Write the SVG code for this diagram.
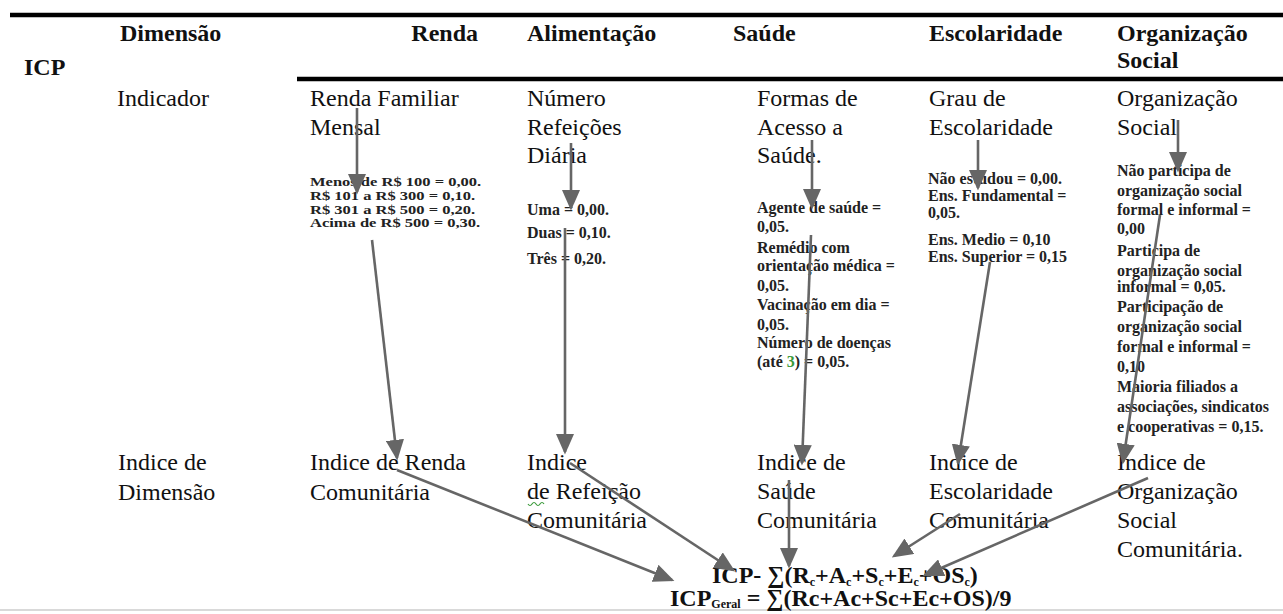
<svg xmlns="http://www.w3.org/2000/svg" width="1283" height="614" viewBox="0 0 1283 614" font-family="'Liberation Serif', 'DejaVu Serif', serif">
<style>
text{font-family:"Liberation Serif","DejaVu Serif",serif;fill:#111}
.h{font-size:24px;font-weight:bold}
.t{font-size:24px}
.s{font-size:16px;font-weight:bold;fill:#222}
.sq{font-size:16.5px;font-weight:bold;fill:#222}
.f{font-size:24px;font-weight:bold}
.sub{font-size:12px}
.rule{stroke:#000;stroke-width:4.5}
.c{stroke:#666;stroke-width:2.6;fill:none;marker-end:url(#ah)}
</style>
<defs>
<marker id="ah" markerWidth="8" markerHeight="7" refX="7" refY="3.5" orient="auto" markerUnits="strokeWidth">
<path d="M0,0 L8,3.5 L0,7 Z" fill="#666"/>
</marker>
</defs>
<rect width="1283" height="614" fill="#fff"/>
<g id="rules">
<line class="rule" x1="10" y1="15" x2="1283" y2="15"/>
<line class="rule" x1="297" y1="79" x2="1283" y2="79"/>
<line x1="0" y1="610" x2="1283" y2="610" stroke="#ccc" stroke-width="1.5"/>
</g>
<g id="header">
<text class="h" x="24" y="75">ICP</text>
<text class="h" x="120" y="41">Dimensão</text>
<text class="h" x="478" y="41" text-anchor="end">Renda</text>
<text class="h" x="527" y="41">Alimentação</text>
<text class="h" x="733" y="41">Saúde</text>
<text class="h" x="929" y="41">Escolaridade</text>
<text class="h" x="1117" y="41">Organização</text>
<text class="h" x="1117" y="68">Social</text>
</g>
<g id="row-indicador">
<text class="t" x="117" y="106">Indicador</text>
</g>
<g id="ind-renda">
<text class="t" x="310" y="106">Renda Familiar</text>
<text class="t" x="310" y="135">Mensal</text>
<g transform="translate(310 0) scale(1 0.8)">
<text class="sq" x="0" y="233">Menos de R$ 100 = 0,00.</text>
<text class="sq" x="0" y="250">R$ 101 a R$ 300 = 0,10.</text>
<text class="sq" x="0" y="267">R$ 301 a R$ 500 = 0,20.</text>
<text class="sq" x="0" y="284">Acima de R$ 500 = 0,30.</text>
</g>
</g>
<g id="ind-alimentacao">
<text class="t" x="527" y="106">Número</text>
<text class="t" x="527" y="135">Refeições</text>
<text class="t" x="527" y="163">Diária</text>
<text class="s" x="527" y="215">Uma = 0,00.</text>
<text class="s" x="527" y="238">Duas = 0,10.</text>
<text class="s" x="527" y="264">Três = 0,20.</text>
</g>
<g id="ind-saude">
<text class="t" x="757" y="106">Formas de</text>
<text class="t" x="757" y="135">Acesso a</text>
<text class="t" x="757" y="163">Saúde.</text>
<text class="s" x="757" y="213">Agente de saúde =</text>
<text class="s" x="757" y="232">0,05.</text>
<text class="s" x="757" y="253">Remédio com</text>
<text class="s" x="757" y="271">orientação médica =</text>
<text class="s" x="757" y="291">0,05.</text>
<text class="s" x="757" y="310">Vacinação em dia =</text>
<text class="s" x="757" y="330">0,05.</text>
<text class="s" x="757" y="348">Número de doenças</text>
<text class="s" x="757" y="367">(até <tspan fill="#3a9a3a">3</tspan>) = 0,05.</text>
</g>
<g id="ind-escolaridade">
<text class="t" x="929" y="106">Grau de</text>
<text class="t" x="929" y="135">Escolaridade</text>
<text class="s" x="928" y="184">Não estudou = 0,00.</text>
<text class="s" x="928" y="201">Ens. Fundamental =</text>
<text class="s" x="928" y="218">0,05.</text>
<text class="s" x="928" y="245">Ens. Medio = 0,10</text>
<text class="s" x="928" y="262">Ens. Superior = 0,15</text>
</g>
<g id="ind-organizacao">
<text class="t" x="1117" y="106">Organização</text>
<text class="t" x="1117" y="135">Social</text>
<text class="s" x="1117" y="176">Não participa de</text>
<text class="s" x="1117" y="196">organização social</text>
<text class="s" x="1117" y="215">formal e informal =</text>
<text class="s" x="1117" y="234">0,00</text>
<text class="s" x="1117" y="256">Participa de</text>
<text class="s" x="1117" y="276">organização social</text>
<text class="s" x="1117" y="292">informal = 0,05.</text>
<text class="s" x="1117" y="312">Participação de</text>
<text class="s" x="1117" y="332">organização social</text>
<text class="s" x="1117" y="352">formal e informal =</text>
<text class="s" x="1117" y="372">0,10</text>
<text class="s" x="1117" y="392">Maioria filiados a</text>
<text class="s" x="1117" y="412">associações, sindicatos</text>
<text class="s" x="1117" y="432">e cooperativas = 0,15.</text>
</g>
<g id="row-indice">
<text class="t" x="118" y="470">Indice de</text>
<text class="t" x="118" y="500">Dimensão</text>
</g>
<g id="idx-renda">
<text class="t" x="310" y="470">Indice de Renda</text>
<text class="t" x="310" y="500">Comunitária</text>
</g>
<g id="idx-alimentacao">
<text class="t" x="527" y="470">Indice</text>
<text class="t" x="527" y="499">de Refeição</text>
<path d="M528,504 q2,3 4,0 t4,0 t4,0 t4,0" stroke="#3a9a3a" stroke-width="1.2" fill="none"/>
<text class="t" x="527" y="528">Comunitária</text>
</g>
<g id="idx-saude">
<text class="t" x="757" y="470">Indice de</text>
<text class="t" x="757" y="499">Saúde</text>
<text class="t" x="757" y="528">Comunitária</text>
</g>
<g id="idx-escolaridade">
<text class="t" x="929" y="470">Indice de</text>
<text class="t" x="929" y="499">Escolaridade</text>
<text class="t" x="929" y="528">Comunitária</text>
</g>
<g id="idx-organizacao">
<text class="t" x="1117" y="470">Indice de</text>
<text class="t" x="1117" y="499">Organização</text>
<text class="t" x="1117" y="528">Social</text>
<text class="t" x="1117" y="557">Comunitária.</text>
</g>
<g id="formula">
<text class="f" x="712" y="583">ICP- ∑(R<tspan class="sub" dy="3">c</tspan><tspan dy="-3">+A</tspan><tspan class="sub" dy="3">c</tspan><tspan dy="-3">+S</tspan><tspan class="sub" dy="3">c</tspan><tspan dy="-3">+E</tspan><tspan class="sub" dy="3">c</tspan><tspan dy="-3">+OS</tspan><tspan class="sub" dy="3">c</tspan><tspan dy="-3">)</tspan></text>
<text class="f" x="670" y="606">ICP<tspan class="sub" dy="2">Geral</tspan><tspan dy="-2"> =  ∑(Rc+Ac+Sc+Ec+OS)/9</tspan></text>
</g>
<g id="connectors">
<line class="c" x1="357" y1="108" x2="357" y2="192"/>
<line class="c" x1="372" y1="240" x2="397" y2="458"/>
<line class="c" x1="571" y1="143" x2="571" y2="208"/>
<line class="c" x1="565" y1="228" x2="565" y2="452"/>
<line class="c" x1="812" y1="140" x2="812" y2="207"/>
<line class="c" x1="811" y1="235" x2="802" y2="463"/>
<line class="c" x1="978" y1="140" x2="978" y2="188"/>
<line class="c" x1="990" y1="262" x2="958" y2="463"/>
<line class="c" x1="1178" y1="120" x2="1178" y2="170"/>
<line class="c" x1="1160" y1="215" x2="1123" y2="462"/>
<line class="c" x1="397" y1="470" x2="672" y2="580"/>
<line class="c" x1="570" y1="463" x2="733" y2="570"/>
<line class="c" x1="789" y1="480" x2="789" y2="566"/>
<line class="c" x1="960" y1="514" x2="894" y2="556"/>
<line class="c" x1="1148" y1="478" x2="925" y2="575"/>
</g>
</svg>
